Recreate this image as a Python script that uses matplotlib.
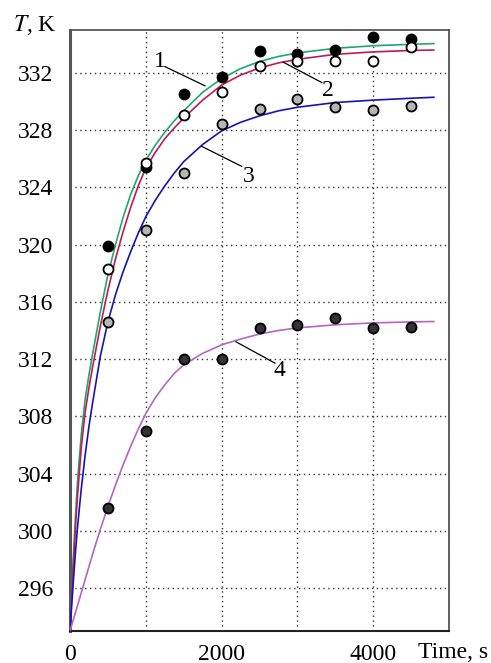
"""
Temperature vs time: measured points and model curves 1-4
"""

import matplotlib
matplotlib.use('Agg')
import matplotlib.pyplot as plt
from matplotlib.ticker import MultipleLocator

matplotlib.rcParams['font.family'] = 'serif'
matplotlib.rcParams['font.serif'] = ['Liberation Serif', 'DejaVu Serif']
matplotlib.rcParams['mathtext.fontset'] = 'stix'
matplotlib.rcParams['font.size'] = 17

# measured points (s, K)
t_meas = [500, 1000, 1500, 2000, 2500, 3000, 3500, 4000, 4500]
T_meas_1 = [319.9, 325.4, 330.5, 331.75, 333.5, 333.3, 333.6, 334.5, 334.35]
T_meas_2 = [318.3, 325.7, 329.05, 330.7, 332.5, 332.8, 332.8, 332.8, 333.8]
T_meas_3 = [314.6, 321.0, 325.0, 328.4, 329.45, 330.2, 329.6, 329.4, 329.7]
T_meas_4 = [301.6, 307.0, 312.0, 312.0, 314.2, 314.4, 314.85, 314.15, 314.25]

# model curves
t_model = [0, 25, 50, 75, 100, 150, 200, 250, 300, 400, 500, 600, 700, 800, 900,
           1000, 1125, 1250, 1375, 1500, 1750, 2000, 2250, 2500, 2750, 3000,
           3500, 4000, 4500, 4800]
T_model_1 = [293, 296.0, 298.8, 301.3, 303.5, 306.8, 309.2, 310.9, 312.4, 315.3,
             317.9, 320.0, 321.9, 323.5, 324.8, 325.9, 326.95, 327.85, 328.65, 329.35,
             330.65, 331.6, 332.3, 332.8, 333.15, 333.4, 333.72, 333.9, 334.0, 334.05]
T_model_2 = [293, 295.6, 298.2, 300.5, 302.5, 305.9, 308.3, 310.0, 311.5, 314.3,
             316.8, 319.0, 320.9, 322.6, 324.1, 325.35, 326.45, 327.4, 328.15, 328.85,
             330.1, 331.15, 331.85, 332.35, 332.7, 332.95, 333.3, 333.47, 333.57, 333.6]
T_model_3 = [293, 295.0, 296.9, 298.7, 300.3, 303.0, 305.3, 307.3, 309.0, 312.2,
             314.6, 316.5, 318.1, 319.5, 320.8, 321.95, 323.1, 324.1, 325.0, 325.8,
             327.0, 327.95, 328.55, 329.0, 329.35, 329.6, 329.93, 330.1, 330.23, 330.3]
T_model_4 = [293, 293.45, 293.9, 294.35, 294.8, 295.7, 296.6, 297.5, 298.4, 300.1,
             301.7, 303.2, 304.6, 305.9, 307.1, 308.2, 309.3, 310.2, 311.0, 311.6,
             312.4, 313.0, 313.4, 313.75, 314.0, 314.18, 314.4, 314.53, 314.6, 314.63]

line_colors = ['#1fa86a', '#c2185b', '#1414b4', '#b565c4']
dot_faces = ['black', 'white', '#b5b5b5', '#333333']

fig = plt.figure(figsize=(4.91, 6.63), dpi=100)
ax = fig.add_axes([70 / 491, 1 - 631 / 663, 379 / 491, 601 / 663])

curves = [T_model_1, T_model_2, T_model_3, T_model_4]
points = [T_meas_1, T_meas_2, T_meas_3, T_meas_4]
for T_c, c in zip(curves, line_colors):
    ax.plot(t_model, T_c, color=c, lw=1.2, zorder=3)
for T_p, fc in zip(points, dot_faces):
    ax.plot(t_meas, T_p, 'o', ms=7.2, mfc=fc, mec='black', mew=1.3, zorder=4)

# curve labels with leader lines
labels = [('1', (1253, 332.44), (1781, 331.1), (1187, 332.77)),
          ('2', (2814, 332.75), (3321, 331.33), (3408, 330.8)),
          ('3', (1737, 326.87), (2265, 325.47), (2352, 324.78)),
          ('4', (2190, 313.21), (2704, 311.72), (2761, 311.19))]
for txt, p0, p1, pt in labels:
    ax.plot([p0[0], p1[0]], [p0[1], p1[1]], color='black', lw=0.9, zorder=5)
    ax.text(pt[0], pt[1], txt, ha='center', va='center', zorder=6)

ax.set_xlim(0, 5000)
ax.set_ylim(293, 335)
ax.set_xticks([0, 2000, 4000])
ax.xaxis.set_minor_locator(MultipleLocator(1000))
ax.set_yticks(range(296, 333, 4))
ax.tick_params(which='both', length=0)
ax.tick_params(axis='y', pad=12)
ax.tick_params(axis='x', pad=9)
ax.grid(which='both', color='#333333', linestyle=(0, (1, 2.5)), lw=1.0)

for side in ['top', 'right']:
    ax.spines[side].set_color('#555555')
    ax.spines[side].set_linewidth(1.3)
ax.spines['left'].set_color('#555555')
ax.spines['left'].set_linewidth(2.2)
ax.spines['bottom'].set_color('#222222')
ax.spines['bottom'].set_linewidth(1.5)

fig.text(418 / 491, 1 - 653 / 663, 'Time, s', ha='left', va='center')
fig.text(13 / 491, 1 - 25 / 663, '$T$, K', ha='left', va='center')

plt.savefig('out.png', dpi=100)
